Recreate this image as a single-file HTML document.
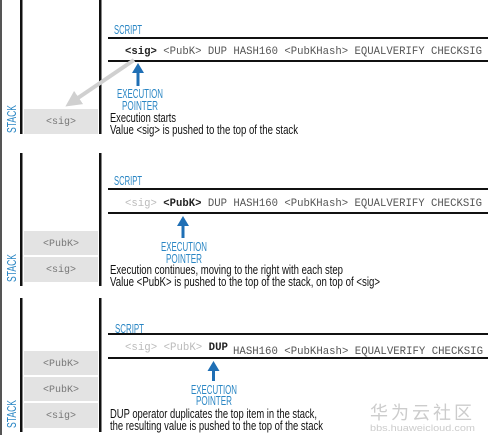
<!DOCTYPE html>
<html><head><meta charset="utf-8"><style>
body{margin:0;background:#fff;width:488px;height:435px;overflow:hidden}
svg{display:block}
.m{font-family:"Liberation Mono",monospace;font-size:11px;fill:#555}
.g{fill:#bbb}
.b{font-weight:bold;fill:#222}
.d{font-family:"Liberation Sans",sans-serif;font-size:12.5px;fill:#111}
.bl{font-family:"Liberation Sans",sans-serif;fill:#2a86c4;font-size:13px}
.sk{font-family:"Liberation Mono",monospace;font-size:10px;fill:#777}
</style></head><body>
<svg width="488" height="435" viewBox="0 0 488 435">
<rect x="0" y="0" width="2" height="435" fill="#555"/>
<defs><marker id="ga" markerWidth="4" markerHeight="4" refX="2" refY="2" orient="auto"><path d="M0,0 L4,2 L0,4 z" fill="#d0d0d0"/></marker></defs>

<!-- Panel 1 -->
<rect x="20" y="0" width="2.5" height="134" fill="#111"/>
<rect x="99" y="0" width="2.5" height="134" fill="#111"/>
<rect x="24" y="109" width="74" height="25" fill="#e3e3e3"/>
<text class="sk" x="61" y="124" text-anchor="middle">&lt;sig&gt;</text>
<text class="bl" transform="translate(16,133) rotate(-90)" textLength="28" lengthAdjust="spacingAndGlyphs">STACK</text>
<text class="bl" x="114" y="34" textLength="28" lengthAdjust="spacingAndGlyphs">SCRIPT</text>
<rect x="108" y="37" width="380" height="2" fill="#111"/>
<text class="m" x="125" y="54" textLength="357" lengthAdjust="spacingAndGlyphs"><tspan class="b">&lt;sig&gt;</tspan> &lt;PubK&gt; DUP HASH160 &lt;PubKHash&gt; EQUALVERIFY CHECKSIG</text>
<rect x="108" y="60" width="380" height="2" fill="#111"/>
<line x1="134" y1="60" x2="72" y2="102" stroke="#d0d0d0" stroke-width="4" marker-end="url(#ga)"/>
<rect x="136.5" y="72" width="3" height="14" fill="#1f6fb5"/><path d="M132,73 L138,63 L144,73 z" fill="#1f6fb5"/>
<text class="bl" x="140" y="98" text-anchor="middle" textLength="46" lengthAdjust="spacingAndGlyphs">EXECUTION</text>
<text class="bl" x="140" y="110" text-anchor="middle" textLength="36" lengthAdjust="spacingAndGlyphs">POINTER</text>
<text class="d" x="110" y="122" textLength="66" lengthAdjust="spacingAndGlyphs">Execution starts</text>
<text class="d" x="110" y="134" textLength="188" lengthAdjust="spacingAndGlyphs">Value &lt;sig&gt; is pushed to the top of the stack</text>

<!-- Panel 2 -->
<rect x="20" y="153" width="2.5" height="133" fill="#111"/>
<rect x="99" y="153" width="2.5" height="133" fill="#111"/>
<rect x="24" y="231" width="74" height="24" fill="#e3e3e3"/>
<text class="sk" x="61" y="246" text-anchor="middle">&lt;PubK&gt;</text>
<rect x="24" y="257" width="74" height="25" fill="#e3e3e3"/>
<text class="sk" x="61" y="272" text-anchor="middle">&lt;sig&gt;</text>
<text class="bl" transform="translate(16,282) rotate(-90)" textLength="28" lengthAdjust="spacingAndGlyphs">STACK</text>
<text class="bl" x="114" y="185" textLength="28" lengthAdjust="spacingAndGlyphs">SCRIPT</text>
<rect x="108" y="188" width="380" height="2" fill="#111"/>
<text class="m" x="125" y="206" textLength="357" lengthAdjust="spacingAndGlyphs"><tspan class="g">&lt;sig&gt;</tspan> <tspan class="b">&lt;PubK&gt;</tspan> DUP HASH160 &lt;PubKHash&gt; EQUALVERIFY CHECKSIG</text>
<rect x="108" y="212" width="380" height="2" fill="#111"/>
<rect x="181.5" y="225" width="3" height="13" fill="#1f6fb5"/><path d="M177,226 L183,216 L189,226 z" fill="#1f6fb5"/>
<text class="bl" x="184" y="251" text-anchor="middle" textLength="46" lengthAdjust="spacingAndGlyphs">EXECUTION</text>
<text class="bl" x="184" y="263" text-anchor="middle" textLength="36" lengthAdjust="spacingAndGlyphs">POINTER</text>
<text class="d" x="110" y="274" textLength="233" lengthAdjust="spacingAndGlyphs">Execution continues, moving to the right with each step</text>
<text class="d" x="110" y="286" textLength="270" lengthAdjust="spacingAndGlyphs">Value &lt;PubK&gt; is pushed to the top of the stack, on top of &lt;sig&gt;</text>

<!-- Panel 3 -->
<rect x="20" y="298" width="2.5" height="134" fill="#111"/>
<rect x="99" y="298" width="2.5" height="134" fill="#111"/>
<rect x="24" y="351" width="74" height="24" fill="#e3e3e3"/>
<text class="sk" x="61" y="366" text-anchor="middle">&lt;PubK&gt;</text>
<rect x="24" y="377" width="74" height="24" fill="#e3e3e3"/>
<text class="sk" x="61" y="392" text-anchor="middle">&lt;PubK&gt;</text>
<rect x="24" y="403" width="74" height="25" fill="#e3e3e3"/>
<text class="sk" x="61" y="418" text-anchor="middle">&lt;sig&gt;</text>
<text class="bl" transform="translate(16,428) rotate(-90)" textLength="28" lengthAdjust="spacingAndGlyphs">STACK</text>
<text class="bl" x="115" y="333" textLength="29" lengthAdjust="spacingAndGlyphs">SCRIPT</text>
<rect x="108" y="333" width="380" height="2" fill="#111"/>
<text class="m" x="125" y="350" textLength="103" lengthAdjust="spacingAndGlyphs"><tspan class="g">&lt;sig&gt; &lt;PubK&gt;</tspan> <tspan class="b">DUP</tspan></text>
<text class="m" x="233" y="354" textLength="250" lengthAdjust="spacingAndGlyphs">HASH160 &lt;PubKHash&gt; EQUALVERIFY CHECKSIG</text>
<rect x="108" y="357" width="380" height="2" fill="#111"/>
<rect x="212" y="370" width="3" height="11" fill="#1f6fb5"/><path d="M207.5,371 L213.5,361 L219.5,371 z" fill="#1f6fb5"/>
<text class="bl" x="214" y="394" text-anchor="middle" textLength="46" lengthAdjust="spacingAndGlyphs">EXECUTION</text>
<text class="bl" x="214" y="405" text-anchor="middle" textLength="36" lengthAdjust="spacingAndGlyphs">POINTER</text>
<text class="d" x="110" y="418" textLength="207" lengthAdjust="spacingAndGlyphs">DUP operator duplicates the top item in the stack,</text>
<text class="d" x="110" y="430" textLength="213" lengthAdjust="spacingAndGlyphs">the resulting value is pushed to the top of the stack</text>

<text x="370" y="419" font-family="'Noto Sans CJK SC',sans-serif" font-size="18" fill="#ccc" textLength="102" lengthAdjust="spacing">华为云社区</text>
<text x="370" y="431" font-family="'Liberation Sans',sans-serif" font-size="9" fill="#ccc" textLength="105" lengthAdjust="spacingAndGlyphs">bbs.huaweicloud.com</text>
</svg>
</body></html>
